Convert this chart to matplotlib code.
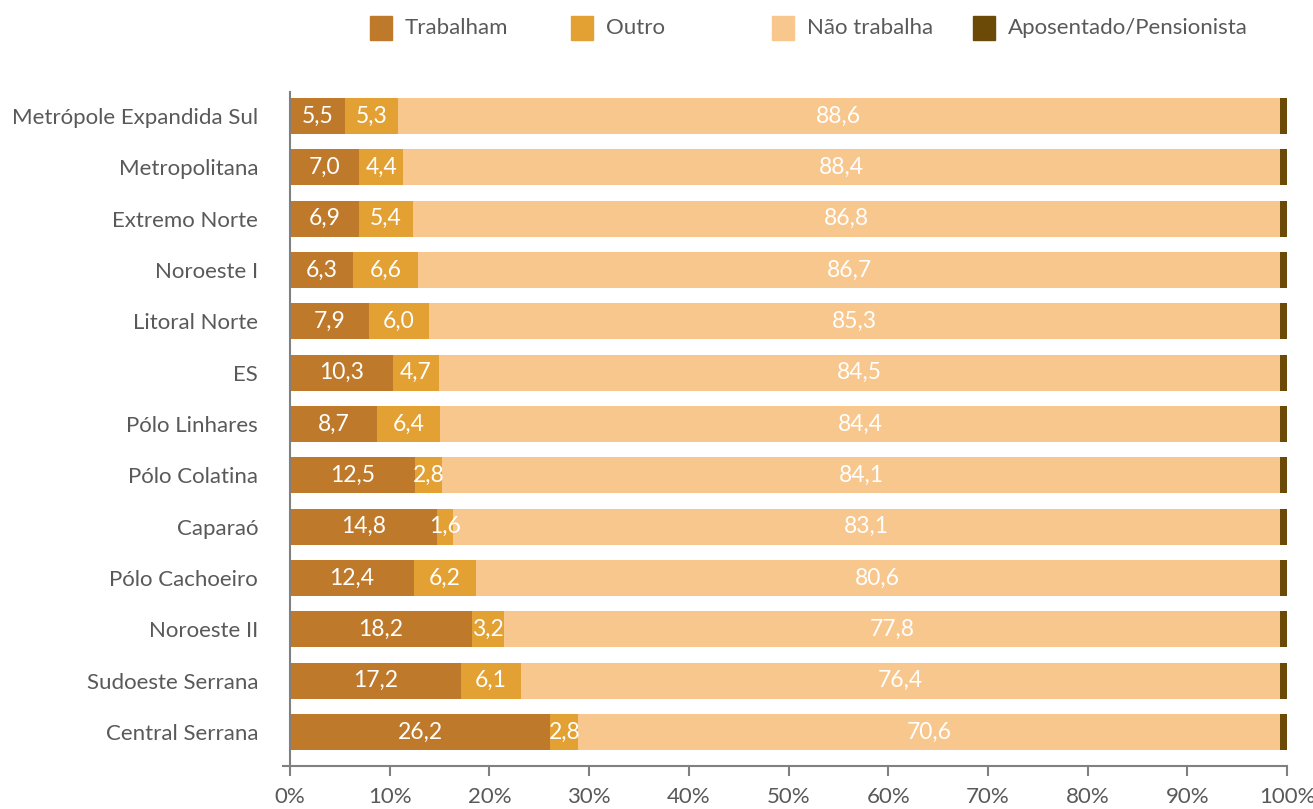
import numpy as np
import matplotlib
matplotlib.use("Agg")
import matplotlib.pyplot as plt
from matplotlib.patches import Rectangle
from matplotlib.lines import Line2D

plt.rcParams['font.family'] = ['Lato', 'DejaVu Sans']

regions = ['Metrópole Expandida Sul', 'Metropolitana', 'Extremo Norte', 'Noroeste I',
           'Litoral Norte', 'ES', 'Pólo Linhares', 'Pólo Colatina', 'Caparaó',
           'Pólo Cachoeiro', 'Noroeste II', 'Sudoeste Serrana', 'Central Serrana']
trabalham = [5.5, 7.0, 6.9, 6.3, 7.9, 10.3, 8.7, 12.5, 14.8, 12.4, 18.2, 17.2, 26.2]
outro = [5.3, 4.4, 5.4, 6.6, 6.0, 4.7, 6.4, 2.8, 1.6, 6.2, 3.2, 6.1, 2.8]
nao_trabalha = [88.6, 88.4, 86.8, 86.7, 85.3, 84.5, 84.4, 84.1, 83.1, 80.6, 77.8, 76.4, 70.6]
aposentado = [0.7] * 13

series = ['Trabalham', 'Outro', 'Não trabalha', 'Aposentado/Pensionista']
colors = ['#BE7A2A', '#E3A033', '#F8C78D', '#6B4A07']
label_color = '#595959'
axis_color = '#808080'

data = np.array([trabalham, outro, nao_trabalha, aposentado])
# 100% stacked: each row scaled to its own total
shares = data / data.sum(axis=0) * 100

fig = plt.figure(figsize=(13.13, 8.09), dpi=100)
ax = fig.add_axes([0.2209, 0.0535, 0.7593, 0.8328])

y = np.arange(len(regions))
left = np.zeros(len(regions))
for i, (name, color) in enumerate(zip(series, colors)):
    ax.barh(y, shares[i], left=left, height=0.70, color=color, label=name)
    if i < 3:
        for yi, l, w, v in zip(y, left, shares[i], data[i]):
            ax.text(l + w / 2, yi, f'{v:.1f}'.replace('.', ','), ha='center', va='center',
                    color='white', fontsize=16.5)
    left += shares[i]

ax.set_ylim(len(regions) - 1 + 0.656, -0.4675)
ax.set_xlim(0, 100)
ax.set_yticks(y)
ax.set_yticklabels(regions, fontsize=16, color=label_color)
ax.set_xticks(np.arange(0, 101, 10))
ax.set_xticklabels([f'{t}%' for t in range(0, 101, 10)], fontsize=16, color=label_color)
ax.tick_params(axis='y', length=0, pad=23)
ax.tick_params(axis='x', length=7, width=1.5, color=axis_color, pad=8)
for side in ['top', 'right']:
    ax.spines[side].set_visible(False)
for side in ['left', 'bottom']:
    ax.spines[side].set_color(axis_color)
    ax.spines[side].set_linewidth(1.5)
# short stub of the category axis past the corner
ax.add_line(Line2D([-0.007, 0], [0, 0], transform=ax.transAxes, color=axis_color,
                   linewidth=1.5, clip_on=False))

# legend row along the top, equal-width columns
W, H = 1313, 809
for i, (name, color) in enumerate(zip(series, colors)):
    x0 = 370 + i * 201
    fig.patches.append(Rectangle((x0 / W, 1 - 40 / H), 22 / W, 24 / H, color=color,
                                 transform=fig.transFigure, figure=fig))
    fig.text((x0 + 35) / W, 1 - 28 / H, name, ha='left', va='center', fontsize=16,
             color=label_color)

fig.savefig('out.png', dpi=100)
